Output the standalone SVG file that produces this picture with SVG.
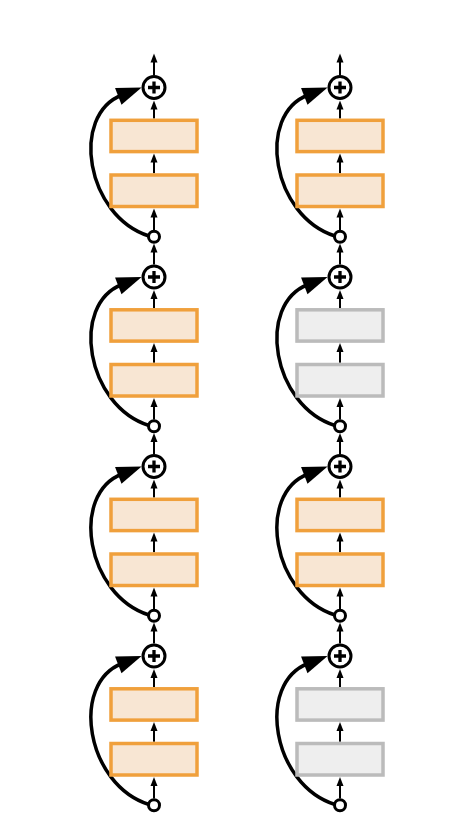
<svg xmlns="http://www.w3.org/2000/svg" width="457" height="829" viewBox="0 0 457 829">
<defs>
<style>
.bo{fill:#F8E6D3;stroke:#F0A03C;stroke-width:3.5}
.bg{fill:#EEEEEE;stroke:#BBBBBB;stroke-width:3.5}
.pc{fill:#fff;stroke:#000;stroke-width:3}
.ps{stroke:#000;stroke-width:3.3;fill:none}
.sc{fill:#fff;stroke:#000;stroke-width:3}
.ar{stroke:#000;stroke-width:2;fill:none;marker-end:url(#a)}
.sk{stroke:#000;stroke-width:3.5;fill:none;marker-end:url(#b)}
</style>
<marker id="a" markerUnits="userSpaceOnUse" markerWidth="9" markerHeight="7" refX="2.5" refY="3.5" orient="auto" overflow="visible"><path d="M0,0L9,3.5L0,7z"/></marker>
<marker id="b" markerUnits="userSpaceOnUse" markerWidth="25" markerHeight="18" refX="4" refY="9" orient="auto" overflow="visible"><path d="M0,0L25,9L0,18z"/></marker>
</defs>
<rect width="457" height="829" fill="#fff"/>

<g id="connectors">
  <g id="left-connectors">
    <path class="ar" d="M154,75V60"/>
    <path class="ar" d="M154,118.5V107"/>
    <path class="ar" d="M154,173.2V160"/>
    <path class="ar" d="M154,230V215"/>
    <path class="ar" d="M154,264.5V250"/>
    <path class="ar" d="M154,308V296.5"/>
    <path class="ar" d="M154,362.7V349.5"/>
    <path class="ar" d="M154,419.5V404.5"/>
    <path class="ar" d="M154,454V439.5"/>
    <path class="ar" d="M154,497.5V486"/>
    <path class="ar" d="M154,552.2V539"/>
    <path class="ar" d="M154,609V594"/>
    <path class="ar" d="M154,643.5V629"/>
    <path class="ar" d="M154,687V675.5"/>
    <path class="ar" d="M154,741.7V728.5"/>
    <path class="ar" d="M154,798.5V783.5"/>
    <path class="sk" d="M149,236C86,216 70,115 122,95"/>
    <path class="sk" transform="translate(0,189.5)" d="M149,236C86,216 70,115 122,95"/>
    <path class="sk" transform="translate(0,379)" d="M149,236C86,216 70,115 122,95"/>
    <path class="sk" transform="translate(0,568.5)" d="M149,236C86,216 70,115 122,95"/>
  </g>
  <g id="right-connectors" transform="translate(186,0)">
    <path class="ar" d="M154,75V60"/>
    <path class="ar" d="M154,118.5V107"/>
    <path class="ar" d="M154,173.2V160"/>
    <path class="ar" d="M154,230V215"/>
    <path class="ar" d="M154,264.5V250"/>
    <path class="ar" d="M154,308V296.5"/>
    <path class="ar" d="M154,362.7V349.5"/>
    <path class="ar" d="M154,419.5V404.5"/>
    <path class="ar" d="M154,454V439.5"/>
    <path class="ar" d="M154,497.5V486"/>
    <path class="ar" d="M154,552.2V539"/>
    <path class="ar" d="M154,609V594"/>
    <path class="ar" d="M154,643.5V629"/>
    <path class="ar" d="M154,687V675.5"/>
    <path class="ar" d="M154,741.7V728.5"/>
    <path class="ar" d="M154,798.5V783.5"/>
    <path class="sk" d="M149,236C86,216 70,115 122,95"/>
    <path class="sk" transform="translate(0,189.5)" d="M149,236C86,216 70,115 122,95"/>
    <path class="sk" transform="translate(0,379)" d="M149,236C86,216 70,115 122,95"/>
    <path class="sk" transform="translate(0,568.5)" d="M149,236C86,216 70,115 122,95"/>
  </g>
</g>

<g id="left-column">
  <g id="L1-add" transform="translate(154,87.5)"><circle class="pc" r="11"/><path class="ps" d="M-6,0H6M0,-6V6"/></g>
  <g id="L1-box1"><rect class="bo" x="111" y="120.3" width="86" height="31.3"/></g>
  <g id="L1-box2"><rect class="bo" x="111" y="175" width="86" height="31.5"/></g>
  <g id="L1-split"><circle class="sc" cx="154" cy="236.7" r="5.5"/></g>

  <g id="L2-add" transform="translate(154,277)"><circle class="pc" r="11"/><path class="ps" d="M-6,0H6M0,-6V6"/></g>
  <g id="L2-box1"><rect class="bo" x="111" y="309.8" width="86" height="31.3"/></g>
  <g id="L2-box2"><rect class="bo" x="111" y="364.5" width="86" height="31.5"/></g>
  <g id="L2-split"><circle class="sc" cx="154" cy="426.2" r="5.5"/></g>

  <g id="L3-add" transform="translate(154,466.5)"><circle class="pc" r="11"/><path class="ps" d="M-6,0H6M0,-6V6"/></g>
  <g id="L3-box1"><rect class="bo" x="111" y="499.3" width="86" height="31.3"/></g>
  <g id="L3-box2"><rect class="bo" x="111" y="554" width="86" height="31.5"/></g>
  <g id="L3-split"><circle class="sc" cx="154" cy="615.7" r="5.5"/></g>

  <g id="L4-add" transform="translate(154,656)"><circle class="pc" r="11"/><path class="ps" d="M-6,0H6M0,-6V6"/></g>
  <g id="L4-box1"><rect class="bo" x="111" y="688.8" width="86" height="31.3"/></g>
  <g id="L4-box2"><rect class="bo" x="111" y="743.5" width="86" height="31.5"/></g>
  <g id="L4-split"><circle class="sc" cx="154" cy="805.2" r="5.5"/></g>
</g>

<g id="right-column">
  <g id="R1-add" transform="translate(340,87.5)"><circle class="pc" r="11"/><path class="ps" d="M-6,0H6M0,-6V6"/></g>
  <g id="R1-box1"><rect class="bo" x="297" y="120.3" width="86" height="31.3"/></g>
  <g id="R1-box2"><rect class="bo" x="297" y="175" width="86" height="31.5"/></g>
  <g id="R1-split"><circle class="sc" cx="340" cy="236.7" r="5.5"/></g>

  <g id="R2-add" transform="translate(340,277)"><circle class="pc" r="11"/><path class="ps" d="M-6,0H6M0,-6V6"/></g>
  <g id="R2-box1"><rect class="bg" x="297" y="309.8" width="86" height="31.3"/></g>
  <g id="R2-box2"><rect class="bg" x="297" y="364.5" width="86" height="31.5"/></g>
  <g id="R2-split"><circle class="sc" cx="340" cy="426.2" r="5.5"/></g>

  <g id="R3-add" transform="translate(340,466.5)"><circle class="pc" r="11"/><path class="ps" d="M-6,0H6M0,-6V6"/></g>
  <g id="R3-box1"><rect class="bo" x="297" y="499.3" width="86" height="31.3"/></g>
  <g id="R3-box2"><rect class="bo" x="297" y="554" width="86" height="31.5"/></g>
  <g id="R3-split"><circle class="sc" cx="340" cy="615.7" r="5.5"/></g>

  <g id="R4-add" transform="translate(340,656)"><circle class="pc" r="11"/><path class="ps" d="M-6,0H6M0,-6V6"/></g>
  <g id="R4-box1"><rect class="bg" x="297" y="688.8" width="86" height="31.3"/></g>
  <g id="R4-box2"><rect class="bg" x="297" y="743.5" width="86" height="31.5"/></g>
  <g id="R4-split"><circle class="sc" cx="340" cy="805.2" r="5.5"/></g>
</g>
</svg>
